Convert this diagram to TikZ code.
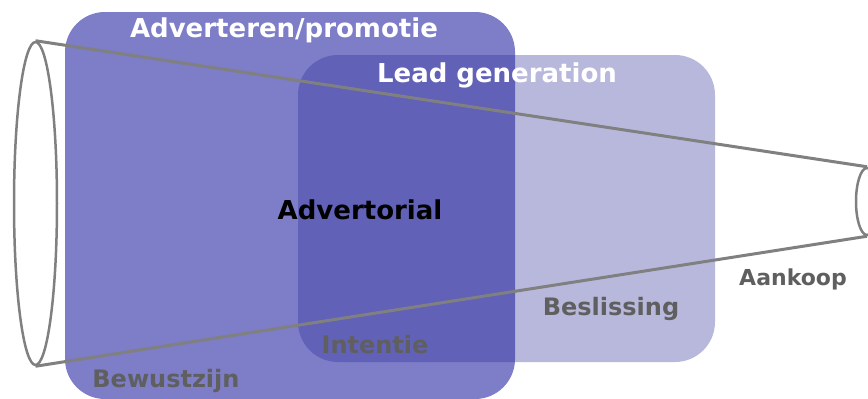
\documentclass[tikz,border=0pt]{standalone}
\usepackage{fontspec}
\setmainfont{DejaVu Sans}
\usetikzlibrary{shapes.geometric}
\definecolor{vlakblauw}{RGB}{125,125,200}
\definecolor{leadblauw}{RGB}{40,40,150}
\definecolor{trechtergrijs}{RGB}{128,128,128}
\definecolor{fasegrijs}{RGB}{95,95,95}

\begin{document}
\begin{tikzpicture}
	[x=1pt, y=-1pt,
	vlak/.style={rectangle, rounded corners=40pt, inner sep=0pt},
	rand/.style={ellipse, draw=trechtergrijs, line width=2.5pt, fill=white, inner sep=0pt},
	trechter/.style={draw=trechtergrijs, line width=3pt},
	kop/.style={text=white, font=\fontsize{26}{30}\selectfont\bfseries, anchor=base},
	fase/.style={text=fasegrijs, font=\fontsize{24}{28}\selectfont\bfseries, anchor=base}]
		\useasboundingbox (0,0) rectangle (868,399);
		\clip (0,0) rectangle (868,399);
		\node[vlak, fill=vlakblauw, minimum width=450pt, minimum height=387pt] (promotie) at (290,205.5) {};
		\node[vlak, fill=leadblauw, fill opacity=0.33, minimum width=417pt, minimum height=307pt] (leadgen) at (506.5,208.5) {};
		\node[rand, minimum width=43pt, minimum height=323pt] (mond) at (35.5,203.5) {};
		\node[rand, minimum width=22pt, minimum height=67pt] (eind) at (867,201.5) {};
		\draw[trechter] (mond.north) -- (eind.north);
		\draw[trechter] (mond.south) -- (eind.south);
		\node[kop] (tpromotie) at (284,37) {Adverteren/promotie};
		\node[kop] (tlead) at (497,82) {Lead generation};
		\node[kop, text=black] (tadvertorial) at (360,219) {Advertorial};
		\node[fase] (tbewust) at (166,387) {Bewustzijn};
		\node[fase] (tintentie) at (375,353) {Intentie};
		\node[fase] (tbeslis) at (611,315) {Beslissing};
		\node[fase, font=\fontsize{22}{26}\selectfont\bfseries] (taankoop) at (793,285) {Aankoop};
\end{tikzpicture}
\end{document}
